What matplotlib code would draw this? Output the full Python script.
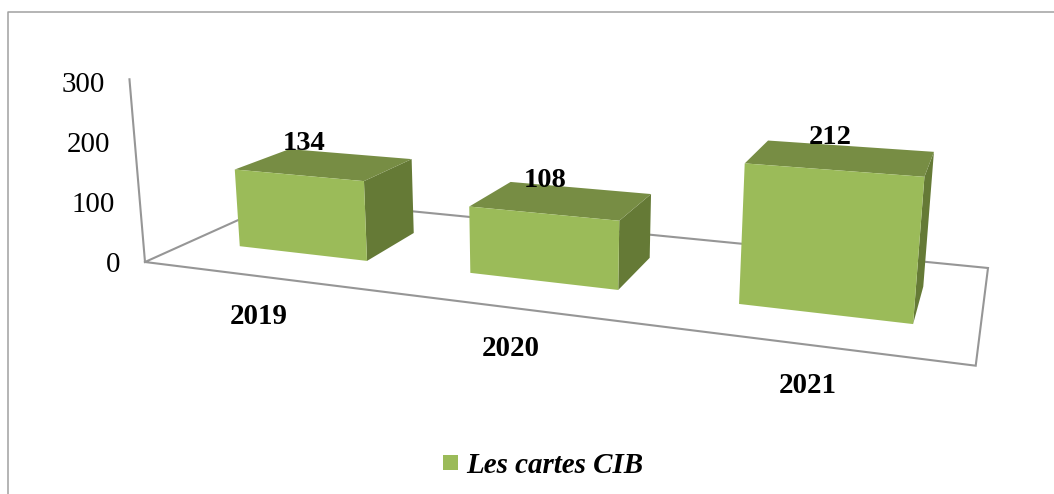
import numpy as np
import matplotlib
matplotlib.use("Agg")
import matplotlib.pyplot as plt
from matplotlib.patches import Polygon, Rectangle

# data
years = ["2019", "2020", "2021"]
cartes = [134, 108, 212]
y_ticks = [0, 100, 200, 300]
legend_label = "Les cartes CIB"

plt.rcParams["font.family"] = ["Liberation Serif", "DejaVu Serif"]

# floor corners in pixels: (0,0) (3,0) (3,1) (0,1) in (category, depth) space
corners = np.array([[145, 262], [975.7, 365.7], [988, 268], [285.4, 198.8]])
half_w = 0.285
bar_shift = 0.01
d_front, d_back = 0.30, 0.70


def floor_matrix(c):
    # homography unit square -> floor quad
    (x0, y0), (x1, y1), (x2, y2), (x3, y3) = c
    sx, sy = x0 - x1 + x2 - x3, y0 - y1 + y2 - y3
    dx1, dx2, dy1, dy2 = x1 - x2, x3 - x2, y1 - y2, y3 - y2
    det = dx1 * dy2 - dx2 * dy1
    g = (sx * dy2 - dx2 * sy) / det
    h = (dx1 * sy - sx * dy1) / det
    return np.array([[x1 - x0 + g * x1, x3 - x0 + h * x3, x0],
                     [y1 - y0 + g * y1, y3 - y0 + h * y3, y0],
                     [g, h, 1]])


H = floor_matrix(corners)


def project(u, d, v=0):
    # category position, depth, value -> pixel
    p = H @ np.array([u / 3, d, 1])
    x, y = p[0] / p[2], p[1] / p[2]
    k = 0.572 + 0.00157 * (y - 246)  # nearer points get a larger value scale
    lean = -0.065 + (x - 240) * 0.000211  # verticals converge downwards
    h = k * v
    return x + lean * h, y - h


fig = plt.figure(figsize=(10.54, 4.94), dpi=100)
ax = fig.add_axes([0, 0, 1, 1])
ax.set_xlim(0, 1054)
ax.set_ylim(494, 0)
ax.axis("off")

line_col = "#969696"

# outer frame
ax.plot([7.5, 7.5, 1054], [494, 12.5, 12.5], color="#a0a0a0", lw=1.1)

# floor and value axis
floor = [project(0, 0), project(3, 0), project(3, 1), project(0, 1), project(0, 0)]
ax.plot(*zip(*floor), color=line_col, lw=1.5, solid_joinstyle="miter")
ax.plot(*zip(project(0, 0), project(0, 0, y_ticks[-1] * 1.02)), color=line_col, lw=1.5)

for t in y_ticks:
    x, y = project(0, 0, t)
    ax.text(x - 25, y + 2.5, str(t), ha="right", va="center", fontsize=20.9, color="black")

# bars
for i, val in enumerate(cartes):
    c = i + 0.5 + bar_shift
    u0, u1 = c - half_w, c + half_w
    side = [project(u1, d_front), project(u1, d_back), project(u1, d_back, val), project(u1, d_front, val)]
    top = [project(u0, d_front, val), project(u1, d_front, val), project(u1, d_back, val), project(u0, d_back, val)]
    front = [project(u0, d_front), project(u1, d_front), project(u1, d_front, val), project(u0, d_front, val)]
    ax.add_patch(Polygon(side, closed=True, fc="#657A36", ec="none", zorder=3))
    ax.add_patch(Polygon(top, closed=True, fc="#778D44", ec="none", zorder=3))
    ax.add_patch(Polygon(front, closed=True, fc="#9BBB59", ec="none", zorder=3))

    x, y = project(c, 0.40, val)
    ax.text(x - 7, y - 26, str(val), ha="center", va="center", fontsize=20.5,
            fontweight="bold", color="black", zorder=4)

    x, y = project(i + 0.5, 0)
    ax.text(x + 2, y + 41, years[i], ha="center", va="center", fontsize=20.9,
            fontweight="bold", color="black")

# legend
ax.add_patch(Rectangle((443, 455), 15, 15, fc="#9BBB59", ec="none"))
ax.text(466.5, 465, legend_label, ha="left", va="center", fontsize=20.9,
        fontweight="bold", fontstyle="italic", color="black")

fig.savefig("out.png", dpi=100)
